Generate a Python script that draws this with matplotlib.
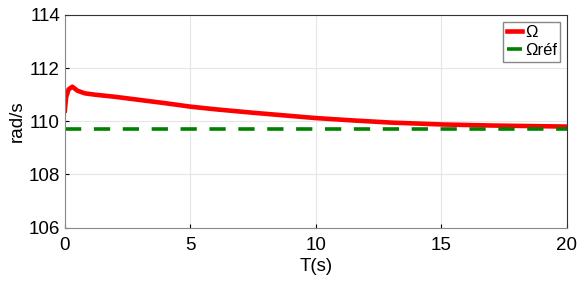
import numpy as np
import matplotlib.pyplot as plt

plt.rcParams['font.family'] = ['Liberation Sans', 'DejaVu Sans']

# speed response
t = [0, 0.05, 0.15, 0.3, 0.5, 0.8, 1.2, 2, 3, 4, 5, 6, 7.5, 9, 10, 11.5, 13, 15, 17, 18.5, 20]
omega = [110.4, 110.9, 111.2, 111.3, 111.15, 111.05, 111.0, 110.92, 110.8, 110.68, 110.55,
         110.45, 110.32, 110.2, 110.12, 110.03, 109.95, 109.88, 109.84, 109.82, 109.8]
t_ref = [0, 20]
omega_ref = [109.7, 109.7]

fig = plt.figure(figsize=(5.79, 2.82), dpi=100)
ax = fig.add_axes([0.112, 0.193, 0.867, 0.754])

ax.plot(t, omega, color='red', linewidth=3.3, label='Ω')
ax.plot(t_ref, omega_ref, color='green', linewidth=2.6, dashes=(4.5, 3.5), label='Ωréf')

ax.set_xlim(0, 20)
ax.set_ylim(106, 114)
ax.set_xticks([0, 5, 10, 15, 20])
ax.set_yticks([106, 108, 110, 112, 114])
ax.tick_params(direction='in', labelsize=13.5, length=3, colors='black')
ax.tick_params(axis='x', pad=7)
ax.grid(True, color='#e6e6e6', linewidth=0.8)
for s in ['left', 'bottom']:
    ax.spines[s].set_color('#888888')
for s in ['top', 'right']:
    ax.spines[s].set_color('#333333')
ax.set_xlabel('T(s)', fontsize=13.5, labelpad=3)
ax.set_ylabel('rad/s', fontsize=13.5, labelpad=2)

leg = ax.legend(loc='upper right', fontsize=12, handlelength=0.9, handletextpad=0.2,
                borderpad=0.2, labelspacing=0.2, fancybox=False, framealpha=1,
                edgecolor='#888888', borderaxespad=0.4)

fig.savefig('out.png', dpi=100)
